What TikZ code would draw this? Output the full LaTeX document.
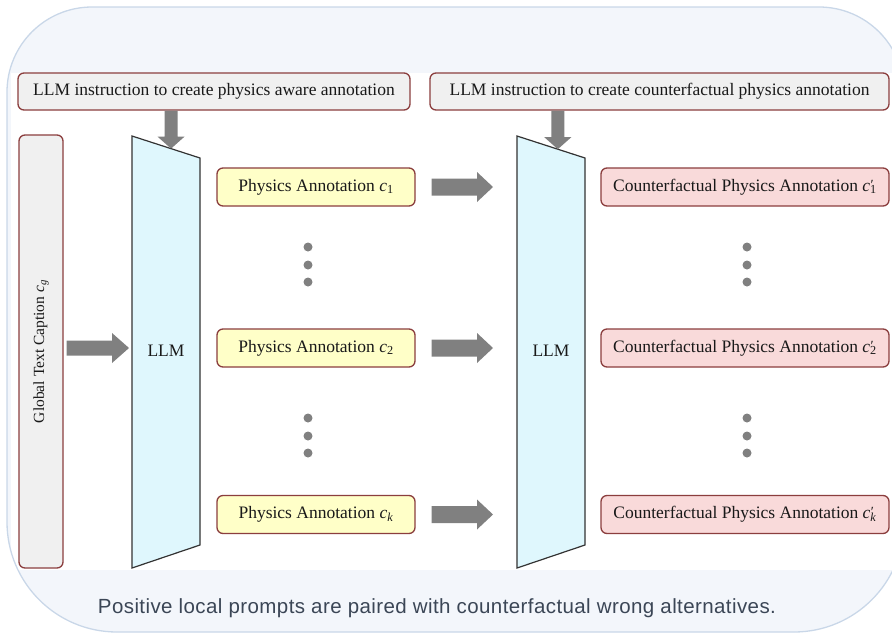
\documentclass[tikz,border=0pt]{standalone}
\usepackage{fontspec}
\setmainfont{Liberation Serif}
\newfontfamily\capfont[LetterSpace=2]{Liberation Sans}
\usetikzlibrary{calc}
\definecolor{outerfill}{HTML}{F3F6FB}
\definecolor{outerline}{HTML}{C9D7E8}
\definecolor{boxline}{HTML}{8B3E3E}
\definecolor{grayfill}{HTML}{F0F0F0}
\definecolor{yellowfill}{HTML}{FFFFC8}
\definecolor{pinkfill}{HTML}{F9DADA}
\definecolor{cyanfill}{HTML}{DFF7FD}
\definecolor{arrgray}{HTML}{808080}
\definecolor{captext}{HTML}{3B4656}
% variable c with subscript, and with prime and subscript
\newcommand\cv[1]{\textit{c}\textsubscript{#1}}
\newcommand\cvp[1]{\textit{c}\makebox[0pt][l]{\kern0.5pt\raisebox{0.12em}{\fontsize{14}{14}\selectfont ′}}\textsubscript{#1}}
% horizontal block arrow: start, end, half shaft, half head, head length
\newcommand\harrow[5]{\fill[arrgray] let \p1=#1, \p2=#2 in
  (\x1,\y1+#3) -- (\x2-#5,\y1+#3) -- (\x2-#5,\y1+#4) -- (\x2,\y1) --
  (\x2-#5,\y1-#4) -- (\x2-#5,\y1-#3) -- (\x1,\y1-#3) -- cycle;}
% vertical (downward) block arrow: start, end, half shaft, half head, head length
\newcommand\varrow[5]{\fill[arrgray] let \p1=#1, \p2=#2 in
  (\x1-#3,\y1) -- (\x1-#3,\y2+#5) -- (\x1-#4,\y2+#5) -- (\x1,\y2) --
  (\x1+#4,\y2+#5) -- (\x1+#3,\y2+#5) -- (\x1+#3,\y1) -- cycle;}
\begin{document}
\begin{tikzpicture}[x=1pt,y=-1pt,
  rbox/.style={draw=boxline, line width=1.3pt, rounded corners=6pt, inner sep=0pt,
    font=\fontsize{17.5}{20}\selectfont, text=black!90},
  topbox/.style={rbox, fill=grayfill, minimum height=37},
  physbox/.style={rbox, fill=yellowfill, minimum width=198, minimum height=38},
  cfbox/.style={rbox, fill=pinkfill, minimum width=288, minimum height=38},
  llmshape/.style={draw=black!80, line width=1.2pt, fill=cyanfill, line join=miter},
  llmtext/.style={font=\fontsize{17.5}{20}\selectfont, text=black!90},
  dot/.style={circle, fill=arrgray, inner sep=0pt, minimum size=9}]
\useasboundingbox (0,0) rectangle (892,633);
% background panel
\fill[outerfill] (7,300) [rounded corners=85pt] -- (7,7) -- (904,7) -- (904,300)
  [rounded corners=110pt] -- (904,632) -- (7,632) -- cycle;
\begin{scope}
\clip (7,300) [rounded corners=85pt] -- (7,7) -- (904,7) -- (904,300)
  [rounded corners=110pt] -- (904,632) -- (7,632) -- cycle;
\fill[white] (11,73) rectangle (892,570);
\end{scope}
\draw[outerline, line width=1.3pt] (7,300) [rounded corners=85pt] -- (7,7) -- (904,7) -- (904,300)
  [rounded corners=110pt] -- (904,632) -- (7,632) -- cycle;

% instruction boxes
\node[topbox, minimum width=392] (top1) at (214,91.5) {LLM instruction to create physics aware annotation};
\node[topbox, minimum width=459] (top2) at (659.5,91.5) {LLM instruction to create counterfactual physics annotation};

% global caption
\node[rbox, fill=grayfill, minimum width=44, minimum height=433] (cap) at (41,351.5) {};
\node[rotate=90, font=\fontsize{15.5}{18}\selectfont, text=black!90] (caplbl) at (cap.center) {Global Text Caption \cv{\textit{g}}};

% LLM blocks
\draw[llmshape] (132,136) coordinate (l1tl) -- (200,158) coordinate (l1tr) --
  (200,545) coordinate (l1br) -- (132,568) coordinate (l1bl) -- cycle;
\node[llmtext] (llm1) at (166,351) {LLM};
\draw[llmshape] (517,136) coordinate (l2tl) -- (585,158) coordinate (l2tr) --
  (585,545) coordinate (l2br) -- (517,568) coordinate (l2bl) -- cycle;
\node[llmtext] (llm2) at (551,351) {LLM};

% physics annotations
\node[physbox] (p1) at (316,187) {Physics Annotation \cv{1}};
\node[physbox] (p2) at (316,348) {Physics Annotation \cv{2}};
\node[physbox] (pk) at (316,514.5) {Physics Annotation \cv{\textit{k}}};

% counterfactual annotations
\node[cfbox] (q1) at (745,187) {Counterfactual Physics Annotation \cvp{1}};
\node[cfbox] (q2) at (745,348) {Counterfactual Physics Annotation \cvp{2}};
\node[cfbox] (qk) at (745,514.5) {Counterfactual Physics Annotation \cvp{\textit{k}}};

% dots
\foreach \y [count=\i] in {247,265,282,418,436,453}{
  \node[dot] (dl\i) at (308,\y) {};
  \node[dot] (dr\i) at (747,\y) {};
}

% arrows
\coordinate (t1) at ($(l1tl)!0.574!(l1tr)$);
\coordinate (t2) at ($(l2tl)!0.60!(l2tr)$);
\varrow{(top1.south -| t1)}{(t1)}{6.5pt}{13.5pt}{12pt}
\varrow{(top2.south -| t2)}{(t2)}{6.5pt}{13.5pt}{12pt}
\harrow{($(cap.east |- p2)+(3,0)$)}{($(l1tl |- p2)+(-3,0)$)}{7.5pt}{15pt}{17pt}
\harrow{($(p1.east)+(16,0)$)}{($(l2tl |- p1)+(-24,0)$)}{8.5pt}{15pt}{16pt}
\harrow{($(p2.east)+(16,0)$)}{($(l2tl |- p2)+(-24,0)$)}{8.5pt}{15pt}{16pt}
\harrow{($(pk.east)+(16,0)$)}{($(l2tl |- pk)+(-24,0)$)}{8.5pt}{15pt}{16pt}

% bottom caption
\node[anchor=base, text=captext, font=\capfont\fontsize{20.5}{24}\selectfont] (caption) at (437,613)
  {Positive local prompts are paired with counterfactual wrong alternatives.};
\end{tikzpicture}
\end{document}
